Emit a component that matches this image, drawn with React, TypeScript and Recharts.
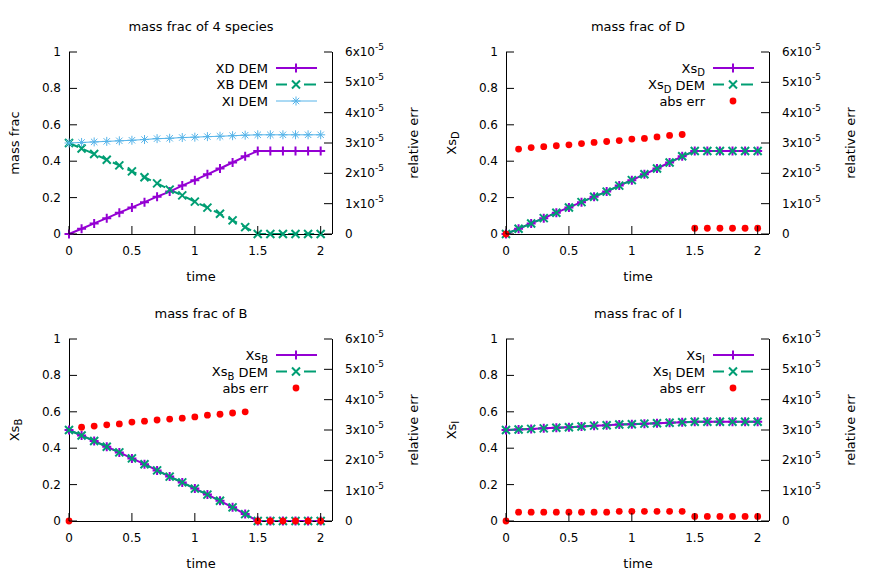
import React from 'react';
import { ComposedChart, Line, XAxis, YAxis } from 'recharts';

// sample times
const TIME = [0, 0.1, 0.2, 0.3, 0.4, 0.5, 0.6, 0.7, 0.8, 0.9, 1.0, 1.1, 1.2, 1.3, 1.4, 1.5, 1.6, 1.7, 1.8, 1.9, 2.0];

// DEM mass fractions
const XD_DEM = [0, 0.029, 0.058, 0.087, 0.117, 0.146, 0.175, 0.205, 0.233, 0.266, 0.296, 0.328, 0.36, 0.393, 0.427, 0.456, 0.456, 0.456, 0.456, 0.456, 0.456];
const XB_DEM = [0.5, 0.47, 0.44, 0.408, 0.377, 0.344, 0.312, 0.278, 0.244, 0.212, 0.178, 0.145, 0.111, 0.075, 0.038, 0, 0, 0, 0, 0, 0];
const XI_DEM = [0.5, 0.503, 0.506, 0.509, 0.512, 0.515, 0.519, 0.524, 0.526, 0.53, 0.532, 0.535, 0.537, 0.54, 0.543, 0.545, 0.545, 0.545, 0.545, 0.545, 0.545];

// reference solution
const XS_D = [0, 0.029, 0.058, 0.087, 0.117, 0.146, 0.175, 0.205, 0.233, 0.266, 0.296, 0.328, 0.36, 0.393, 0.427, 0.456, 0.456, 0.456, 0.456, 0.456, 0.456];
const XS_B = [0.5, 0.47, 0.44, 0.408, 0.377, 0.344, 0.312, 0.278, 0.244, 0.212, 0.178, 0.145, 0.111, 0.075, 0.038, 0, 0, 0, 0, 0, 0];
const XS_I = [0.5, 0.503, 0.506, 0.509, 0.512, 0.515, 0.519, 0.524, 0.526, 0.53, 0.532, 0.535, 0.537, 0.54, 0.543, 0.545, 0.545, 0.545, 0.545, 0.545, 0.545];

// relative errors (right axis)
const ERR_D = [0, 2.8e-5, 2.85e-5, 2.88e-5, 2.91e-5, 2.94e-5, 2.98e-5, 3.02e-5, 3.05e-5, 3.08e-5, 3.13e-5, 3.15e-5, 3.2e-5, 3.25e-5, 3.28e-5, 0.19e-5, 0.19e-5, 0.19e-5, 0.19e-5, 0.19e-5, 0.19e-5];
const ERR_B = [0, 3.09e-5, 3.13e-5, 3.17e-5, 3.2e-5, 3.26e-5, 3.29e-5, 3.33e-5, 3.36e-5, 3.39e-5, 3.43e-5, 3.49e-5, 3.52e-5, 3.56e-5, 3.6e-5, 0, 0, 0, 0, 0, 0];
const ERR_I = [0, 0.29e-5, 0.29e-5, 0.29e-5, 0.29e-5, 0.29e-5, 0.29e-5, 0.29e-5, 0.29e-5, 0.32e-5, 0.32e-5, 0.32e-5, 0.32e-5, 0.32e-5, 0.32e-5, 0.15e-5, 0.15e-5, 0.15e-5, 0.15e-5, 0.15e-5, 0.15e-5];

const X_TICKS = [0, 0.5, 1, 1.5, 2];
const Y_TICKS = [0, 0.2, 0.4, 0.6, 0.8, 1];
const Y2_TICKS = [0, 1e-5, 2e-5, 3e-5, 4e-5, 5e-5, 6e-5];

const FONT = '"DejaVu Sans", sans-serif';
const PURPLE = '#9400d3';
const GREEN = '#009e73';
const BLUE = '#56b4e9';
const RED = '#ff0000';

const W = 437;
const H = 287;

type Mark = 'plus' | 'cross' | 'star' | 'circle';

interface Series {
  key: string;
  name: React.ReactNode;
  values: number[];
  color: string;
  width: number;
  dash?: string;
  mark: Mark;
  axis: 'left' | 'right';
  line: boolean;
}

const Marker = ({ kind, cx, cy, color, width }: { kind: Mark; cx: number; cy: number; color: string; width: number }) => {
  if (cx == null || cy == null) return null;
  if (kind === 'circle') return <circle cx={cx} cy={cy} r={3.4} fill={color} />;
  const s = 4.5;
  let d = '';
  if (kind === 'plus' || kind === 'star') d += `M${cx - s},${cy}H${cx + s}M${cx},${cy - s}V${cy + s}`;
  if (kind === 'cross' || kind === 'star') {
    const c = kind === 'star' ? 3.2 : 4;
    d += `M${cx - c},${cy - c}L${cx + c},${cy + c}M${cx - c},${cy + c}L${cx + c},${cy - c}`;
  }
  return <path d={d} stroke={color} strokeWidth={width} fill="none" />;
};

const LeftTick = (p: any) => (
  <g>
    <line x1={p.x} y1={p.y} x2={p.x + 8} y2={p.y} stroke="#000" />
    <text x={p.x - 8} y={p.y} textAnchor="end" dominantBaseline="central" fontSize={12} fontFamily={FONT} fill="#000">
      {String(p.payload.value)}
    </text>
  </g>
);

const RightTick = (p: any) => {
  const m = Math.round(p.payload.value * 1e5);
  return (
    <g>
      <line x1={p.x} y1={p.y} x2={p.x - 8} y2={p.y} stroke="#000" />
      <text x={p.x + 13} y={p.y} dominantBaseline="central" fontSize={12} fontFamily={FONT} fill="#000">
        {m === 0 ? '0' : `${m}x10`}
        {m !== 0 && <tspan dy={-5} fontSize={9}>-5</tspan>}
      </text>
    </g>
  );
};

const BottomTick = (p: any) => (
  <g>
    <line x1={p.x} y1={p.y} x2={p.x} y2={p.y - 8} stroke="#000" />
    <text x={p.x} y={p.y + 17} textAnchor="middle" dominantBaseline="central" fontSize={12} fontFamily={FONT} fill="#000">
      {String(p.payload.value)}
    </text>
  </g>
);

const TopTick = (p: any) => <line x1={p.x} y1={p.y} x2={p.x} y2={p.y + 8} stroke="#000" />;

const sub = (base: string, s: string, rest = '') => (
  <>
    {base}
    <tspan dy={4} fontSize={10}>{s}</tspan>
    {rest && <tspan dy={-4}>{rest}</tspan>}
  </>
);

const Panel = ({ left, top, title, yLabel, series }: { left: number; top: number; title: string; yLabel: React.ReactNode; series: Series[] }) => {
  const data = TIME.map((t, i) => {
    const row: Record<string, number> = { t };
    series.forEach(s => { row[s.key] = s.values[i]; });
    return row;
  });
  const axisLine = { stroke: '#000', shapeRendering: 'crispEdges' };
  // an axis with no series needs a fixed domain to be drawn at all
  const rightEmpty = !series.some(s => s.axis === 'right');

  return (
    <div style={{ position: 'absolute', left, top, width: W, height: H }}>
      <ComposedChart width={W} height={H} data={data} margin={{ top: 52, right: 0, bottom: 0, left: 0 }}>
        <XAxis xAxisId="bottom" dataKey="t" type="number" domain={[0, 2.09]} ticks={X_TICKS} interval={0}
          height={53} tickSize={0} tickMargin={0} tickLine={false} axisLine={axisLine} tick={BottomTick} />
        <XAxis xAxisId="top" orientation="top" dataKey="t" type="number" domain={[0, 2.09]} ticks={X_TICKS} interval={0}
          height={0} tickSize={0} tickMargin={0} tickLine={false} axisLine={axisLine} tick={TopTick} />
        <YAxis yAxisId="left" orientation="left" width={69} domain={[0, 1]} ticks={Y_TICKS} interval={0}
          tickSize={0} tickMargin={0} tickLine={false} axisLine={axisLine} tick={LeftTick} />
        <YAxis yAxisId="right" orientation="right" width={105} domain={[0, 6e-5]} ticks={Y2_TICKS} interval={0}
          tickSize={0} tickMargin={0} tickLine={false} axisLine={axisLine} tick={RightTick} allowDataOverflow={rightEmpty} />
        {series.map(s => (
          <Line
            key={s.key}
            xAxisId="bottom"
            yAxisId={s.axis}
            dataKey={s.key}
            type="linear"
            stroke={s.line ? s.color : 'none'}
            strokeWidth={s.width}
            strokeDasharray={s.dash}
            activeDot={false}
            isAnimationActive={false}
            dot={(p: any) => <Marker key={`${s.key}-${p.index}`} kind={s.mark} cx={p.cx} cy={p.cy} color={s.color} width={s.width} />}
          />
        ))}
      </ComposedChart>
      <svg width={W} height={H} style={{ position: 'absolute', left: 0, top: 0, pointerEvents: 'none' }}
        fontFamily={FONT} fontSize={13} fill="#000">
        <text x={201} y={26} textAnchor="middle" dominantBaseline="central">{title}</text>
        <text x={201} y={276} textAnchor="middle" dominantBaseline="central">time</text>
        <text x={14} y={143} textAnchor="middle" dominantBaseline="central" transform="rotate(-90 14 143)">{yLabel}</text>
        <text x={413} y={143} textAnchor="middle" dominantBaseline="central" transform="rotate(-90 413 143)">relative err</text>
        {series.map((s, i) => {
          const y = 68 + i * 16.5;
          return (
            <g key={s.key}>
              <text x={268} y={y} textAnchor="end" dominantBaseline="central" style={{ whiteSpace: 'pre' }}>{s.name}</text>
              {s.line && !s.dash && <line x1={276} y1={y} x2={317} y2={y} stroke={s.color} strokeWidth={s.width} />}
              {s.line && s.dash && (
                <>
                  <line x1={276} y1={y} x2={287} y2={y} stroke={s.color} strokeWidth={s.width} />
                  <line x1={304} y1={y} x2={316} y2={y} stroke={s.color} strokeWidth={s.width} />
                </>
              )}
              <Marker kind={s.mark} cx={296} cy={y} color={s.color} width={s.width} />
            </g>
          );
        })}
      </svg>
    </div>
  );
};

const exact = (key: string, name: React.ReactNode, values: number[]): Series =>
  ({ key, name, values, color: PURPLE, width: 2, mark: 'plus', axis: 'left', line: true });
const dem = (key: string, name: React.ReactNode, values: number[]): Series =>
  ({ key, name, values, color: GREEN, width: 2, dash: '10 6', mark: 'cross', axis: 'left', line: true });
const err = (values: number[]): Series =>
  ({ key: 'err', name: 'abs err', values, color: RED, width: 1, mark: 'circle', axis: 'right', line: false });

export default function App() {
  return (
    <div style={{ position: 'absolute', left: 0, top: 0, width: 874, height: 575, background: '#fff', overflow: 'hidden' }}>
      <Panel left={0} top={0} title="mass frac of 4 species" yLabel="mass frac" series={[
        { key: 'xd', name: 'XD DEM', values: XD_DEM, color: PURPLE, width: 2, mark: 'plus', axis: 'left', line: true },
        { key: 'xb', name: 'XB DEM', values: XB_DEM, color: GREEN, width: 2, dash: '10 6', mark: 'cross', axis: 'left', line: true },
        { key: 'xi', name: 'XI DEM', values: XI_DEM, color: BLUE, width: 1, mark: 'star', axis: 'left', line: true },
      ]} />
      <Panel left={437} top={0} title="mass frac of D" yLabel={sub('Xs', 'D')} series={[
        exact('xs', sub('Xs', 'D'), XS_D),
        dem('dem', sub('Xs', 'D', ' DEM'), XD_DEM),
        err(ERR_D),
      ]} />
      <Panel left={0} top={287} title="mass frac of B" yLabel={sub('Xs', 'B')} series={[
        exact('xs', sub('Xs', 'B'), XS_B),
        dem('dem', sub('Xs', 'B', ' DEM'), XB_DEM),
        err(ERR_B),
      ]} />
      <Panel left={437} top={287} title="mass frac of I" yLabel={sub('Xs', 'I')} series={[
        exact('xs', sub('Xs', 'I'), XS_I),
        dem('dem', sub('Xs', 'I', ' DEM'), XI_DEM),
        err(ERR_I),
      ]} />
    </div>
  );
}
